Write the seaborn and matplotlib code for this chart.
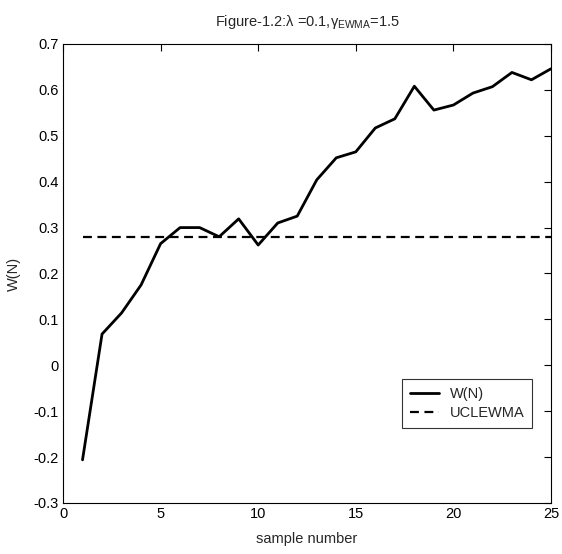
import matplotlib
matplotlib.use("Agg")
import matplotlib.pyplot as plt
import seaborn as sns
import pandas as pd

# values
sample_number = list(range(1, 26))
w_n = [-0.206, 0.068, 0.114, 0.175, 0.265, 0.300, 0.300, 0.280, 0.319, 0.262,
       0.310, 0.325, 0.404, 0.452, 0.465, 0.517, 0.537, 0.608, 0.556, 0.567,
       0.593, 0.607, 0.638, 0.622, 0.646]
ucl_ewma = [0.28] * 25

x_ticks = [0, 5, 10, 15, 20, 25]
y_ticks = [-0.3, -0.2, -0.1, 0, 0.1, 0.2, 0.3, 0.4, 0.5, 0.6, 0.7]

sns.set_style("white")
plt.rcParams['font.family'] = ['Liberation Sans', 'DejaVu Sans']
plt.rcParams['mathtext.fontset'] = 'custom'
plt.rcParams['mathtext.rm'] = 'Liberation Sans'
plt.rcParams['mathtext.it'] = 'Liberation Sans'

df = pd.DataFrame({"n": sample_number, "W(N)": w_n, "UCLEWMA": ucl_ewma})

fig = plt.figure(figsize=(5.62, 5.54), dpi=100)
ax = fig.add_axes([0.1121, 0.0921, 0.8683, 0.8285])

sns.lineplot(data=df, x="n", y="W(N)", ax=ax, color="black", linewidth=2.0, label="W(N)")
sns.lineplot(data=df, x="n", y="UCLEWMA", ax=ax, color="black", linewidth=1.6,
             linestyle=(0, (4, 2.5)), label="UCLEWMA")

ax.set_xlim(0, 25)
ax.set_ylim(-0.3, 0.7)
ax.set_xticks(x_ticks)
ax.set_yticks(y_ticks)
ax.set_xticklabels([str(t) for t in x_ticks])
ax.set_yticklabels(["-0.3", "-0.2", "-0.1", "0", "0.1", "0.2", "0.3", "0.4", "0.5", "0.6", "0.7"])
ax.tick_params(direction="in", length=5, width=0.8, top=True, right=True, labelsize=10.5,
               colors="black", pad=3)
for s in ax.spines.values():
    s.set_color("black")
    s.set_linewidth(0.8)

ax.set_xlabel("sample number", fontsize=10.5, labelpad=8)
ax.set_ylabel("W(N)", fontsize=10.5, labelpad=9)
ax.set_title(r"Figure-1.2:λ =0.1,γ$_{\mathrm{EWMA}}$=1.5", fontsize=10.5, pad=13)

leg = ax.legend(loc="lower right", bbox_to_anchor=(0.962, 0.163), frameon=True,
                fancybox=False, fontsize=10.5, handlelength=2.0, handletextpad=0.7,
                borderpad=0.55, labelspacing=0.35, borderaxespad=0)
leg.get_frame().set_edgecolor("black")
leg.get_frame().set_linewidth(0.8)

fig.savefig("out.png", dpi=100)
